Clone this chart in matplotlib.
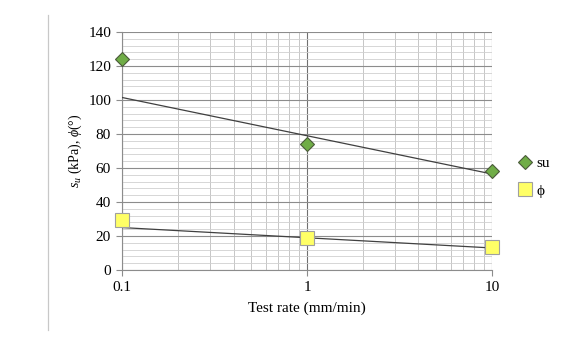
import matplotlib
matplotlib.use("Agg")
import matplotlib.pyplot as plt
from matplotlib.lines import Line2D
from matplotlib.ticker import FixedLocator, LogLocator, NullFormatter

plt.rcParams['font.family'] = ['Liberation Serif', 'DejaVu Serif']
plt.rcParams['mathtext.fontset'] = 'custom'
plt.rcParams['mathtext.rm'] = 'Liberation Serif'
plt.rcParams['mathtext.it'] = 'Liberation Serif:italic'

# data
rate = [0.1, 1, 10]
su = [124, 74, 58.5]
phi = [29.5, 19, 13.5]
su_trend = [101.5, 79, 56.5]
phi_trend = [25, 19, 13]

fig = plt.figure(figsize=(5.63, 3.41), dpi=100)
ax = fig.add_axes([0.217, 0.208, 0.657, 0.698])

ax.set_xscale('log')
ax.set_xlim(0.1, 10)
ax.set_ylim(0, 140)

ax.xaxis.set_major_locator(FixedLocator([0.1, 1, 10]))
ax.xaxis.set_minor_locator(LogLocator(base=10, subs=range(2, 10)))
ax.xaxis.set_minor_formatter(NullFormatter())
ax.set_xticklabels(['0.1', '1', '10'])
ax.set_yticks(range(0, 141, 20))
ax.set_yticks(range(0, 141, 4), minor=True)

ax.grid(True, which='major', axis='y', color='#8c8c8c', lw=0.8)
ax.grid(True, which='minor', axis='y', color='#d0d0d0', lw=0.6)
ax.grid(True, which='major', axis='x', color='#707070', lw=0.8)
ax.grid(True, which='minor', axis='x', color='#bdbdbd', lw=0.6)
ax.set_axisbelow(True)

for s in ['top', 'right']:
    ax.spines[s].set_visible(False)
for s in ['left', 'bottom']:
    ax.spines[s].set_color('#8c8c8c')
    ax.spines[s].set_linewidth(0.8)
ax.tick_params(which='major', length=4, color='#8c8c8c', labelsize=11, pad=4)
ax.tick_params(which='minor', length=0)

ax.plot(rate, su_trend, color='#404040', lw=0.9, zorder=3)
ax.plot(rate, phi_trend, color='#404040', lw=0.9, zorder=3)
ax.plot(rate, su, linestyle='none', marker='D', ms=7, mfc='#70ad47',
        mec='#4a5a3a', mew=0.8, label='su', zorder=4, clip_on=False)
ax.plot(rate, phi, linestyle='none', marker='s', ms=10, mfc='#ffff66',
        mec='#a0a0a0', mew=0.8, label='ϕ', zorder=4, clip_on=False)

ax.set_xlabel('Test rate (mm/min)', fontsize=11, labelpad=5)
ax.set_ylabel(r'$s_u$ (kPa), $\phi$(°)', fontsize=10, labelpad=3)

ax.legend(loc='center left', bbox_to_anchor=(1.03, 0.39), frameon=False,
          fontsize=11, handletextpad=0.3, labelspacing=0.9, handlelength=1.0)

fig.add_artist(Line2D([0.085, 0.085], [0.032, 0.956], color='#c8c8c8', lw=0.9))

fig.savefig('out.png', dpi=100)
